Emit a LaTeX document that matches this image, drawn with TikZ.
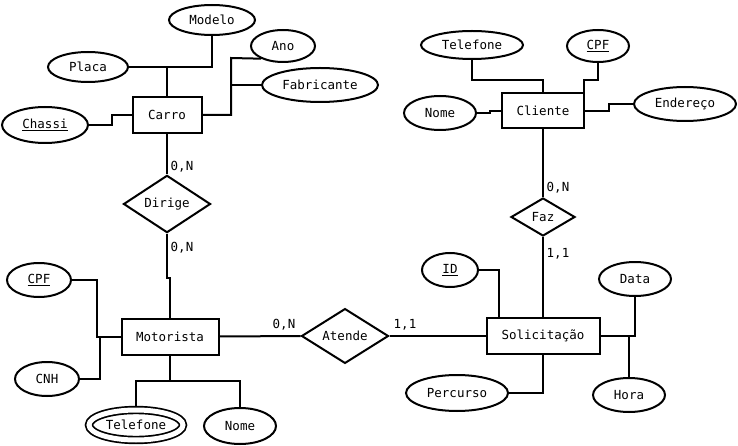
\documentclass[tikz,border=0pt]{standalone}
\usepackage{fontspec}
\setmainfont{DejaVu Sans Mono}
\usetikzlibrary{shapes.geometric,calc}
\begin{document}
\begin{tikzpicture}[x=1pt,y=-1pt,
  every node/.style={font=\fontsize{12.5}{15}\selectfont},
  conn/.style={line width=2pt},
  entity/.style={draw,line width=2pt,rectangle,inner sep=0pt},
  attr/.style={draw,line width=2pt,ellipse,inner sep=0pt},
  multiattr/.style={draw,double,double distance=5pt,line width=1.7pt,ellipse,inner sep=0pt},
  rel/.style={draw,line width=2pt,diamond,inner sep=0pt},
  card/.style={inner sep=0pt}]
\useasboundingbox (0,0) rectangle (738,446);

% Carro and its attributes
\node[entity,minimum width=69pt,minimum height=36pt] (carro) at (167,115) {Carro};
\node[attr,minimum width=86pt,minimum height=30pt] (modelo) at (212,20) {Modelo};
\node[attr,minimum width=80pt,minimum height=30pt] (placa) at (88,67) {Placa};
\node[attr,minimum width=64pt,minimum height=32pt] (ano) at (283,46) {Ano};
\node[attr,minimum width=116pt,minimum height=34pt] (fabricante) at (320,85) {Fabricante};
\node[attr,minimum width=86pt,minimum height=36pt] (chassi) at (45,125) {\underline{Chassi}};

\draw[conn] (modelo.south) -- (modelo.south |- placa.east) -- (carro.north |- placa.east) -- (carro.north);
\draw[conn] (placa.east) -- (carro.north |- placa.east);
\coordinate (carroj) at (231,58);
\draw[conn] (carro.east) -| (carroj) -- (ano.210);
\draw[conn] (fabricante.west) -- (fabricante.west -| carroj);
\draw[conn] (chassi.east) -- ++(23,0) |- (carro.west);

% Dirige
\node[rel,minimum width=87pt,minimum height=52pt] (dirige) at (167,204) {Dirige};
\node[entity,minimum width=97pt,minimum height=36pt] (motorista) at (170,336.5) {Motorista};
\draw[conn] (carro.south) -- (dirige.north);
\draw[conn] (dirige.south) -- ++(0,44) -| (motorista.north);
\node[card] (c1) at (182,167) {0,N};
\node[card] (c2) at (182,248) {0,N};

% Motorista attributes
\node[attr,minimum width=64pt,minimum height=34pt] (cpfm) at (39,280) {\underline{CPF}};
\node[attr,minimum width=64pt,minimum height=34pt] (cnh) at (47,379) {CNH};
\node[multiattr,minimum width=94pt,minimum height=30pt] (telm) at (136,425) {Telefone};
\node[attr,minimum width=72pt,minimum height=36pt] (nomem) at (240,426) {Nome};
\draw[conn] (cpfm.east) -- ++(25,0) |- (motorista.west);
\draw[conn] (cnh.east) -| ($(motorista.west)+(-21,0)$);
\draw[conn] (motorista.south) -- ++(0,25) coordinate (mj) -| ($(telm.north)+(0,-3)$);
\draw[conn] (mj) -| (nomem.north);

% Atende
\node[rel,minimum width=87pt,minimum height=52pt] (atende) at (345,336) {Atende};
\node[entity,minimum width=113pt,minimum height=36pt] (solic) at (543,336) {Solicitação};
\draw[conn] (motorista.east) -- (atende.west);
\draw[conn] (atende.east) -- (solic.west);
\node[card] (c3) at (284,325) {0,N};
\node[card] (c4) at (405,325) {1,1};

% Cliente and its attributes
\node[entity,minimum width=82pt,minimum height=35pt] (cliente) at (543,111) {Cliente};
\node[attr,minimum width=102pt,minimum height=28pt] (telc) at (472,45) {Telefone};
\node[attr,minimum width=62pt,minimum height=32pt] (cpfc) at (598,46) {\underline{CPF}};
\node[attr,minimum width=72pt,minimum height=34pt] (nomec) at (440,113) {Nome};
\node[attr,minimum width=102pt,minimum height=34pt] (endereco) at (685,104) {Endereço};
\draw[conn] (telc.south) -- ++(0,20) -| (cliente.north);
\draw[conn] (cpfc.south) -- ++(0,17) -| ($(cliente.north east)+(-1,0)$);
\draw[conn] (nomec.east) -- ++(13,0) |- (cliente.west);
\draw[conn] (cliente.east) -- ++(24,0) |- (endereco.west);

% Faz
\node[rel,minimum width=64pt,minimum height=38pt] (faz) at (543,217) {Faz};
\draw[conn] (cliente.south) -- (faz.north);
\draw[conn] (faz.south) -- (solic.north);
\node[card] (c5) at (558,188) {0,N};
\node[card] (c6) at (558,254) {1,1};

% Solicitacao attributes
\node[attr,minimum width=56pt,minimum height=34pt] (idsol) at (450,270) {\underline{ID}};
\node[attr,minimum width=72pt,minimum height=34pt] (data) at (635,279) {Data};
\node[attr,minimum width=72pt,minimum height=34pt] (hora) at (629,395) {Hora};
\node[attr,minimum width=102pt,minimum height=36pt] (percurso) at (457,393) {Percurso};
\draw[conn] (idsol.east) -| ($(solic.north west)+(13.5,0)$);
\draw[conn] (solic.east) -| (data.south);
\draw[conn] (hora.north) -- (hora.north |- solic.east);
\draw[conn] (percurso.east) -| (solic.south);
\end{tikzpicture}
\end{document}
